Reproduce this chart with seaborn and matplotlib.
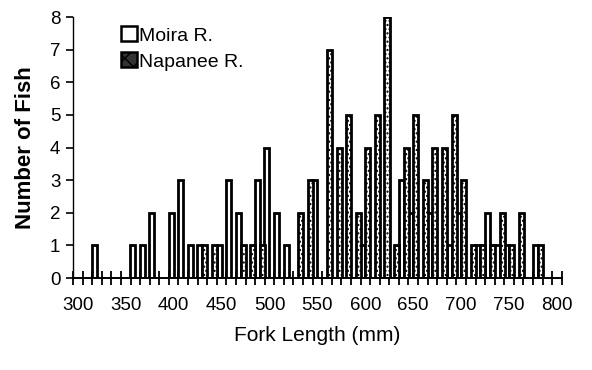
import numpy as np
import pandas as pd
import matplotlib
matplotlib.use("Agg")
import matplotlib.pyplot as plt
from matplotlib.patches import Patch
from matplotlib.ticker import MultipleLocator
import seaborn as sns

# ==========================
# DATA (fork length class in mm, number of fish)
# ==========================
moira_len = [320, 360, 370, 380, 400, 410, 420, 430, 450, 460, 470, 490, 500,
             510, 520, 550, 600, 640, 650, 670, 690, 700, 720, 730, 740, 750, 780]
moira_n = [1, 1, 1, 2, 2, 3, 1, 1, 1, 3, 2, 3, 4,
           2, 1, 3, 1, 3, 2, 2, 1, 2, 1, 2, 1, 1, 1]

napanee_len = [430, 440, 470, 480, 490, 530, 540, 560, 570, 580, 590, 600, 610,
               620, 630, 640, 650, 660, 670, 680, 690, 700, 710, 720, 730, 740,
               750, 760, 780]
napanee_n = [1, 1, 1, 1, 1, 2, 3, 7, 4, 5, 2, 4, 5,
             8, 1, 4, 5, 3, 4, 4, 5, 3, 1, 1, 1, 2,
             1, 2, 1]

rivers = ["Moira R.", "Napanee R."]

df = pd.DataFrame({
    "length": moira_len + napanee_len,
    "count": moira_n + napanee_n,
    "river": [rivers[0]] * len(moira_len) + [rivers[1]] * len(napanee_len),
})

# ==========================
# STYLE
# ==========================
sns.set_style("ticks")
plt.rcParams["font.family"] = ["Liberation Sans", "DejaVu Sans"]
plt.rcParams["hatch.linewidth"] = 1.0
for key in ["text.color", "axes.labelcolor", "xtick.color", "ytick.color",
            "axes.edgecolor"]:
    plt.rcParams[key] = "black"

fig = plt.figure(figsize=(5.92, 3.70), dpi=100)
ax = fig.add_axes([0.1233, 0.2486, 0.8257, 0.7054])

sns.barplot(
    data=df, x="length", y="count", hue="river", hue_order=rivers,
    native_scale=True, dodge=True, width=1.05, gap=0,
    palette=["white", "white"], saturation=1, errorbar=None,
    edgecolor="black", linewidth=2.0, legend=False, ax=ax,
)

# dotted fill for the Napanee bars (drawn after the Moira ones)
n_moira = len(moira_len)
for i, bar in enumerate(ax.patches):
    if i >= n_moira:
        bar.set_hatch("....")

# ==========================
# AXES
# ==========================
ax.set_xlim(295, 805)
ax.set_ylim(0, 8)
ax.set_xticks(np.arange(300, 801, 50))
ax.xaxis.set_minor_locator(MultipleLocator(10, offset=5))
ax.tick_params(axis="x", which="major", length=0, labelsize=13.5, pad=14)
ax.tick_params(axis="x", which="minor", direction="inout", length=10, width=1.3)
ax.yaxis.set_major_locator(MultipleLocator(1))
ax.tick_params(axis="y", which="major", direction="out", length=5, width=1.2,
               labelsize=13.5, pad=4)
sns.despine(ax=ax)
ax.spines["bottom"].set_linewidth(1.4)
ax.spines["left"].set_linewidth(1.0)

ax.set_xlabel("Fork Length (mm)", fontsize=15, labelpad=8)
ax.set_ylabel("Number of Fish", fontsize=16, fontweight="bold", labelpad=10)

handles = [
    Patch(facecolor="white", edgecolor="black", linewidth=1.8, label=rivers[0]),
    Patch(facecolor="#333333", edgecolor="black", linewidth=1.8, hatch="xx",
          label=rivers[1]),
]
fig.legend(handles=handles, loc="upper left", bbox_to_anchor=(0.188, 0.955),
           frameon=False, fontsize=14, handlelength=0.8, handleheight=0.8,
           handletextpad=0.15, labelspacing=0.4, borderpad=0)

plt.savefig("out.png", dpi=100)
plt.close()
